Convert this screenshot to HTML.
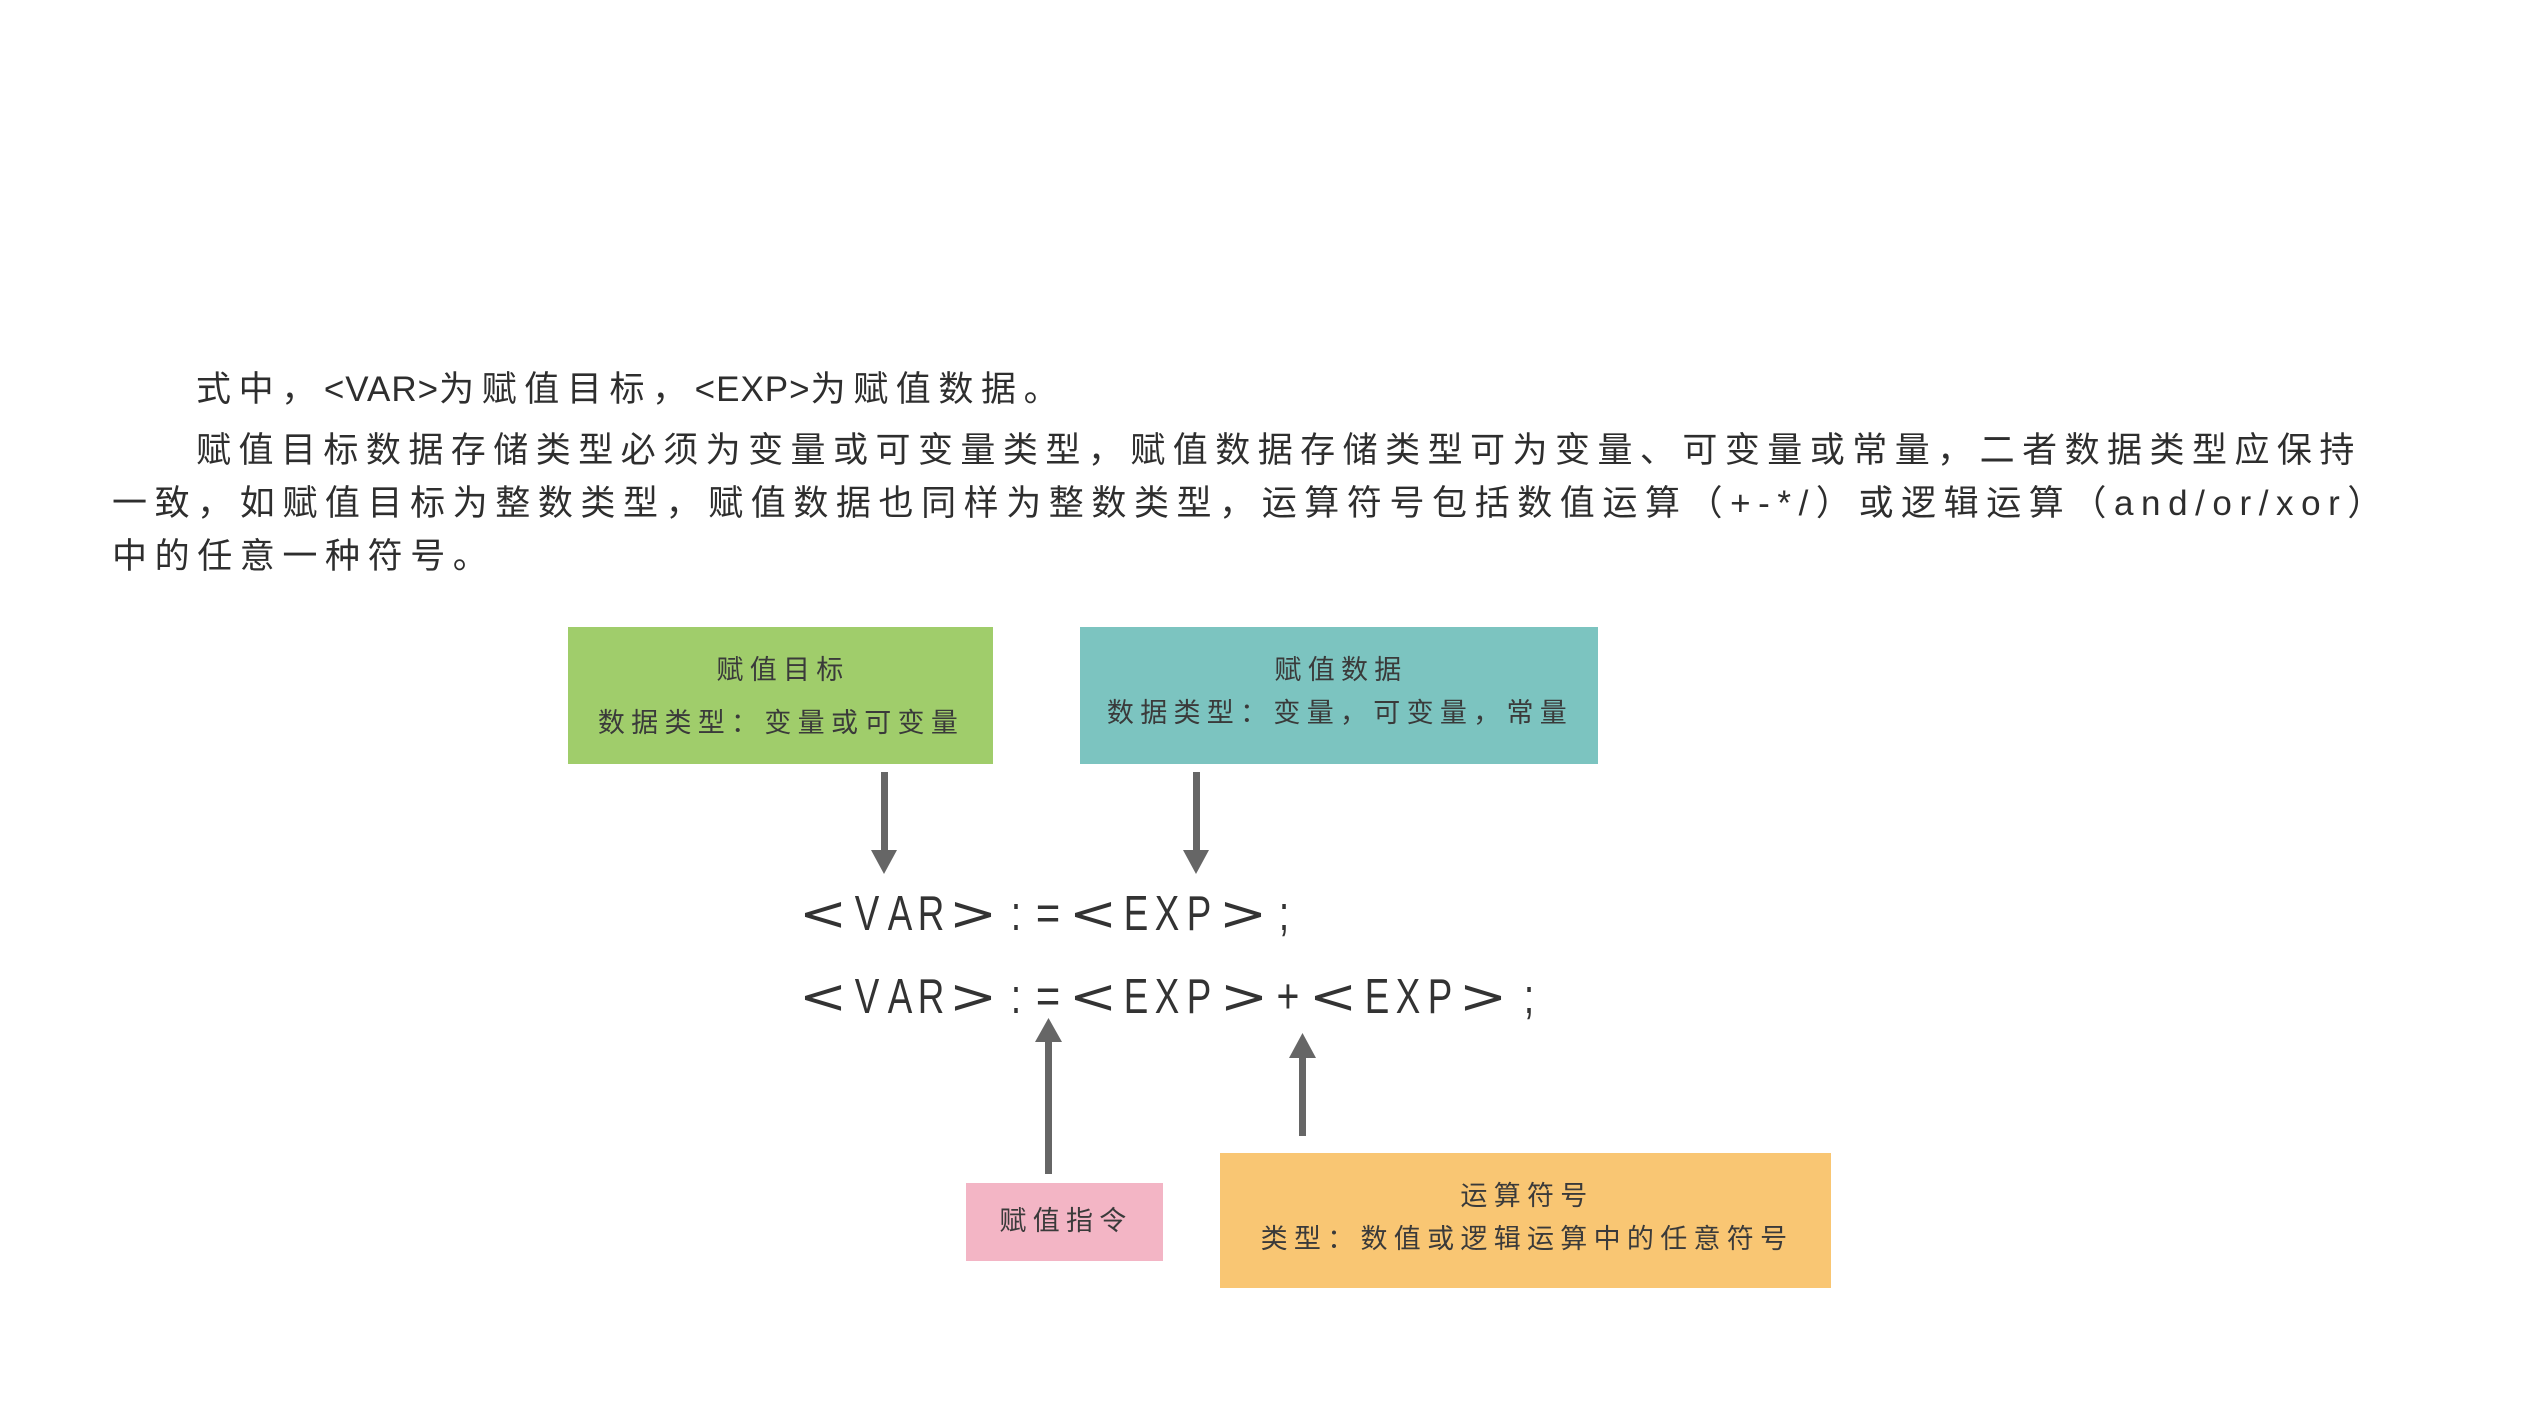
<!DOCTYPE html>
<html>
<head>
<meta charset="utf-8">
<style>
  html,body{margin:0;padding:0;background:#fff;}
  body{width:2528px;height:1422px;overflow:hidden;}
  svg{display:block;}
  .p{font-family:"Liberation Sans","Noto Sans CJK SC",sans-serif;font-size:35px;fill:#2e2e2e;letter-spacing:7.6px;}
  .b{font-family:"Liberation Sans","Noto Sans CJK SC",sans-serif;font-size:27px;fill:#3a3a3a;letter-spacing:6.3px;}
  .f{font-family:"Liberation Sans",sans-serif;font-size:49px;fill:#333;}
  .br{font-family:"DejaVu Sans",sans-serif;font-size:48px;fill:#333;}
</style>
</head>
<body>
<svg width="2528" height="1422" viewBox="0 0 2528 1422" xmlns="http://www.w3.org/2000/svg">
  <rect x="0" y="0" width="2528" height="1422" fill="#fff"/>

  <!-- paragraph -->
  <text class="p" x="196" y="401">式中，<tspan letter-spacing="1">&lt;VAR&gt;</tspan>为赋值目标，<tspan letter-spacing="1">&lt;EXP&gt;</tspan>为赋值数据。</text>
  <text class="p" x="196" y="462" textLength="2166" lengthAdjust="spacing">赋值目标数据存储类型必须为变量或可变量类型，赋值数据存储类型可为变量、可变量或常量，二者数据类型应保持</text>
  <text class="p" x="112" y="515" textLength="2278" lengthAdjust="spacing">一致，如赋值目标为整数类型，赋值数据也同样为整数类型，运算符号包括数值运算（+-*/）或逻辑运算（and/or/xor）</text>
  <text class="p" x="112" y="568">中的任意一种符号。</text>

  <!-- boxes -->
  <rect x="568" y="627" width="425" height="137" fill="#a0cd6b"/>
  <rect x="1080" y="627" width="518" height="137" fill="#7cc4c0"/>
  <rect x="966" y="1183" width="197" height="78" fill="#f3b5c5"/>
  <rect x="1220" y="1153" width="611" height="135" fill="#f9c673"/>

  <text class="b" x="783" y="679" text-anchor="middle">赋值目标</text>
  <text class="b" x="781" y="732" text-anchor="middle">数据类型：变量或可变量</text>

  <text class="b" x="1341" y="679" text-anchor="middle">赋值数据</text>
  <text class="b" x="1340" y="722" text-anchor="middle">数据类型：变量，可变量，常量</text>

  <text class="b" x="1066" y="1230" text-anchor="middle">赋值指令</text>

  <text class="b" x="1527" y="1205" text-anchor="middle">运算符号</text>
  <text class="b" x="1527" y="1248" text-anchor="middle">类型：数值或逻辑运算中的任意符号</text>

  <!-- arrows -->
  <g fill="#666">
    <rect x="881" y="772" width="7" height="80"/>
    <polygon points="871,850 897,850 884,874"/>
    <rect x="1193" y="772" width="7" height="80"/>
    <polygon points="1183,850 1209,850 1196,874"/>

    <rect x="1045" y="1040" width="7" height="134"/>
    <polygon points="1035,1042 1062,1042 1048.5,1018"/>
    <rect x="1299" y="1056" width="7" height="80"/>
    <polygon points="1289,1058 1316,1058 1302.5,1033"/>
  </g>

  <!-- formula line 1 -->
  <g>
    <text class="br" transform="translate(823,930) scale(1.2,1)" text-anchor="middle">&lt;</text>
    <text class="f" transform="translate(867,930) scale(0.75,1)" text-anchor="middle">V</text>
    <text class="f" transform="translate(900,930) scale(0.75,1)" text-anchor="middle">A</text>
    <text class="f" transform="translate(931,930) scale(0.75,1)" text-anchor="middle">R</text>
    <text class="br" transform="translate(973,930) scale(1.2,1)" text-anchor="middle">&gt;</text>
    <text class="f" transform="translate(1016,930) scale(0.75,1)" text-anchor="middle">:</text>
    <text class="f" transform="translate(1048,930) scale(0.85,1)" text-anchor="middle">=</text>
    <text class="br" transform="translate(1093,930) scale(1.2,1)" text-anchor="middle">&lt;</text>
    <text class="f" transform="translate(1136,930) scale(0.75,1)" text-anchor="middle">E</text>
    <text class="f" transform="translate(1167,930) scale(0.75,1)" text-anchor="middle">X</text>
    <text class="f" transform="translate(1199,930) scale(0.75,1)" text-anchor="middle">P</text>
    <text class="br" transform="translate(1243,930) scale(1.2,1)" text-anchor="middle">&gt;</text>
    <text class="f" transform="translate(1284,930) scale(0.75,1)" text-anchor="middle">;</text>
  </g>

  <!-- formula line 2 -->
  <g>
    <text class="br" transform="translate(823,1013) scale(1.2,1)" text-anchor="middle">&lt;</text>
    <text class="f" transform="translate(867,1013) scale(0.75,1)" text-anchor="middle">V</text>
    <text class="f" transform="translate(900,1013) scale(0.75,1)" text-anchor="middle">A</text>
    <text class="f" transform="translate(931,1013) scale(0.75,1)" text-anchor="middle">R</text>
    <text class="br" transform="translate(973,1013) scale(1.2,1)" text-anchor="middle">&gt;</text>
    <text class="f" transform="translate(1016,1013) scale(0.75,1)" text-anchor="middle">:</text>
    <text class="f" transform="translate(1048,1013) scale(0.85,1)" text-anchor="middle">=</text>
    <text class="br" transform="translate(1093,1013) scale(1.2,1)" text-anchor="middle">&lt;</text>
    <text class="f" transform="translate(1136,1013) scale(0.75,1)" text-anchor="middle">E</text>
    <text class="f" transform="translate(1167,1013) scale(0.75,1)" text-anchor="middle">X</text>
    <text class="f" transform="translate(1199,1013) scale(0.75,1)" text-anchor="middle">P</text>
    <text class="br" transform="translate(1244,1013) scale(1.2,1)" text-anchor="middle">&gt;</text>
    <text class="f" transform="translate(1288,1013) scale(0.8,1)" text-anchor="middle">+</text>
    <text class="br" transform="translate(1333,1013) scale(1.2,1)" text-anchor="middle">&lt;</text>
    <text class="f" transform="translate(1377,1013) scale(0.75,1)" text-anchor="middle">E</text>
    <text class="f" transform="translate(1408,1013) scale(0.75,1)" text-anchor="middle">X</text>
    <text class="f" transform="translate(1440,1013) scale(0.75,1)" text-anchor="middle">P</text>
    <text class="br" transform="translate(1483,1013) scale(1.2,1)" text-anchor="middle">&gt;</text>
    <text class="f" transform="translate(1529,1013) scale(0.75,1)" text-anchor="middle">;</text>
  </g>
</svg>
</body>
</html>
